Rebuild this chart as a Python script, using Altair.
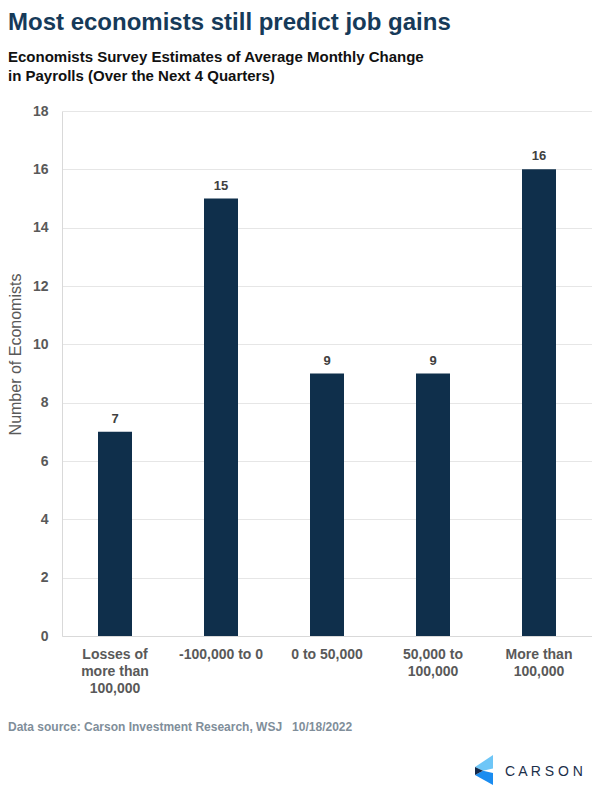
import json
import altair as alt
import pandas as pd

# ---- data ----
categories = ["Losses of more than 100,000", "-100,000 to 0", "0 to 50,000",
              "50,000 to 100,000", "More than 100,000"]
tick_labels = [["Losses of", "more than", "100,000"], ["-100,000 to 0"], ["0 to 50,000"],
               ["50,000 to", "100,000"], ["More than", "100,000"]]
counts = [7, 15, 9, 9, 16]
y_ticks = [0, 2, 4, 6, 8, 10, 12, 14, 16, 18]

title_text = "Most economists still predict job gains"
subtitle_lines = ["Economists Survey Estimates of Average Monthly Change",
                  "in Payrolls (Over the Next 4 Quarters)"]
footer_text = "Data source: Carson Investment Research, WSJ\u00a0\u00a0\u00a010/18/2022"
logo_text = "C A R S O N"

df = pd.DataFrame({"category": categories, "count": counts})
label_map = json.dumps(dict(zip(categories, tick_labels)))

FONT = "Liberation Sans"
BAR = "#0f2f4b"
GRAY = "#595959"

x_enc = alt.X("category:N", sort=categories, title=None,
              scale=alt.Scale(paddingInner=0.68, paddingOuter=0.34),
              axis=alt.Axis(labelExpr=f"{label_map}[datum.value]", labelAngle=0,
                            labelFont=FONT, labelFontSize=14, labelFontWeight="bold",
                            labelColor=GRAY, labelLineHeight=17, labelPadding=11,
                            ticks=False, domainColor="#d9d9d9", labelLimit=200))
y_enc = alt.Y("count:Q", title="Number of Economists",
              scale=alt.Scale(domain=[0, 18], nice=False),
              axis=alt.Axis(values=y_ticks, labelFont=FONT, labelFontSize=14,
                            labelFontWeight="bold", labelColor=GRAY, labelPadding=14,
                            ticks=False, domainColor="#d9d9d9", gridColor="#e6e6e6",
                            titleFont=FONT, titleFontSize=16, titleFontWeight="normal",
                            titleColor=GRAY, titlePadding=9, titleY=243))

bars = alt.Chart(df).mark_bar(color=BAR, size=34).encode(x=x_enc, y=y_enc)
labels = alt.Chart(df).mark_text(font=FONT, fontSize=13, fontWeight="bold",
                                 color="#404040", baseline="bottom", dy=-6).encode(
    x=alt.X("category:N", sort=categories), y="count:Q", text="count:Q")

footer = alt.Chart(pd.DataFrame({"t": [footer_text]})).mark_text(
    font=FONT, fontSize=12, fontWeight="bold", color="#808e9a", align="left",
    baseline="alphabetic").encode(x=alt.value(-54), y=alt.value(620), text="t:N")

logo_word = alt.Chart(pd.DataFrame({"t": [logo_text]})).mark_text(
    font=FONT, fontSize=14, color="#1c2f4a", align="left", baseline="middle").encode(
    x=alt.value(443), y=alt.value(661), text="t:N")

one = pd.DataFrame({"k": [0]})
upper = alt.Chart(one).mark_point(
    shape="M 0.6 -1 L 0.6 -0.1 L -0.07 0.05 L -0.6 -0.2 Z",
    filled=True, color="#6ec6f7", opacity=1, size=900, strokeWidth=0).encode(
    x=alt.value(422), y=alt.value(659))
navy = alt.Chart(one).mark_point(
    shape="M -0.6 -0.2 L -0.07 0.05 L -0.6 0.33 Z",
    filled=True, color="#13294b", opacity=1, size=900, strokeWidth=0).encode(
    x=alt.value(422), y=alt.value(659))
lower = alt.Chart(one).mark_point(
    shape="M -0.6 0.33 L -0.07 0.05 L 0.6 0.2 L 0.6 1 Z",
    filled=True, color="#1a8cf0", opacity=1, size=900, strokeWidth=0).encode(
    x=alt.value(422), y=alt.value(659))

chart = alt.layer(bars, labels, footer, logo_word, upper, lower, navy).properties(
    width=530, height=525,
    autosize=alt.AutoSizeParams(type="none"),
    padding={"left": 54, "top": 103, "right": 0, "bottom": 154},
    title=alt.TitleParams(text=title_text, subtitle=subtitle_lines,
                          anchor="start", frame="group", dx=-54, offset=20,
                          font=FONT, fontSize=24, fontWeight="bold", color="#163a59",
                          subtitleFont=FONT, subtitleFontSize=15,
                          subtitleFontWeight="bold", subtitleColor="#111111",
                          subtitlePadding=15, subtitleLineHeight=19),
).configure_view(stroke=None)

chart.save("out.html", embed_options={"renderer": "svg", "actions": False})
